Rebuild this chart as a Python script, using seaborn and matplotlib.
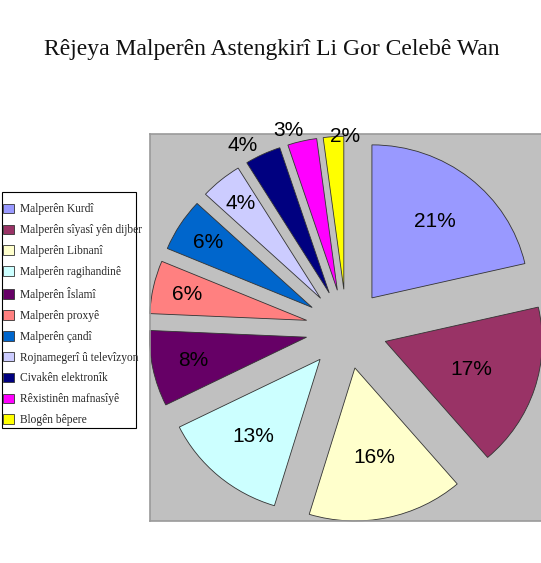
import numpy as np
import matplotlib
matplotlib.use("Agg")
import matplotlib.pyplot as plt
import seaborn as sns
from matplotlib.patches import Rectangle, Patch

sns.set_theme(style="white")
plt.rcParams['font.family'] = ['Liberation Sans', 'DejaVu Sans']

title = "Rêjeya Malperên Astengkirî Li Gor Celebê Wan"
categories = [
    "Malperên Kurdî",
    "Malperên sîyasî yên dijber",
    "Malperên Libnanî",
    "Malperên ragihandinê",
    "Malperên Îslamî",
    "Malperên proxyê",
    "Malperên çandî",
    "Rojnamegerî û televîzyon",
    "Civakên elektronîk",
    "Rêxistinên mafnasîyê",
    "Blogên bêpere",
]
# shares (%); labels show them rounded
values = [21.4, 17.3, 16.0, 13.0, 8.0, 5.6, 5.6, 4.3, 3.7, 3.0, 2.1]
colors = ["#9999FF", "#993366", "#FFFFCC", "#CCFFFF", "#660066", "#FF8080",
          "#0066CC", "#CCCCFF", "#000080", "#FF00FF", "#FFFF00"]
# label placement (style): radial distance in pie radii, angular nudge in degrees
label_r = [0.64, 0.58, 0.60, 0.66, 0.735, 0.78, 0.79, 0.80, 1.11, 1.09, 1.0]
label_dtheta = [0, 0, 0, 0, 0, 0, 0, 0, 4.0, 3.0, -3.4]

W, H = 541, 563
fig = plt.figure(figsize=(W / 100, H / 100), dpi=100)
fig.patch.set_facecolor("white")

# plot area (gray)
x0, y0, x1, y1 = 149.5, 134, 541, 521
ax = fig.add_axes([x0 / W, 1 - y1 / H, (x1 - x0) / W, (y1 - y0) / H])

sx, sy = 157.0, 153.0   # px per unit radius, horizontal / vertical
cx, cy = 346.5, 329
explode = [0.26] * len(values)
wedges, texts = ax.pie(values, colors=colors, startangle=90, counterclock=False,
                       explode=explode, radius=1.0, frame=True,
                       wedgeprops=dict(edgecolor="#333333", linewidth=0.6))
ax.set_facecolor("#C0C0C0")
ax.patch.set_visible(True)
for s in ax.spines.values():
    s.set_visible(True)
    s.set_color("#9A9A9A")
    s.set_linewidth(1.2)
ax.spines['right'].set_visible(False)
ax.set_xlim(-(cx - x0) / sx, (x1 - cx) / sx)
ax.set_ylim(-(y1 - cy) / sy, (cy - y0) / sy)
ax.set_aspect("auto")
ax.set_xticks([]); ax.set_yticks([])
ax.grid(False)

total = sum(values)
for w, v, r, dt, ex in zip(wedges, values, label_r, label_dtheta, explode):
    mid = np.deg2rad((w.theta1 + w.theta2) / 2 + dt)
    d = r + ex
    ax.text(d * np.cos(mid), d * np.sin(mid), f"{round(100 * v / total)}%",
            ha="center", va="center", fontsize=15, color="black",
            family=["Liberation Sans", "DejaVu Sans"], clip_on=False)

# title
fig.text(272 / W, 1 - 49 / H, title, ha="center", va="center", fontsize=17,
         family=["Liberation Serif", "DejaVu Serif"], color="#111111")

# legend frame
fig.add_artist(Rectangle((2 / W, 1 - 428 / H), 134 / W, 236 / H,
                         transform=fig.transFigure, facecolor="white",
                         edgecolor="black", linewidth=0.8, zorder=1))
handles = [Patch(facecolor=c, edgecolor="#333333", linewidth=0.6) for c in colors]
leg = fig.legend(handles, categories, loc="upper left",
                 bbox_to_anchor=(0 / W, 1 - 200 / H), frameon=False,
                 prop=dict(family=["Liberation Serif", "DejaVu Serif"], size=8.3),
                 handlelength=0.9, handleheight=0.9, handletextpad=0.5,
                 labelspacing=0.77, borderaxespad=0.0, borderpad=0.3)
leg.set_zorder(2)

fig.savefig("out.png", dpi=100, facecolor="white")
